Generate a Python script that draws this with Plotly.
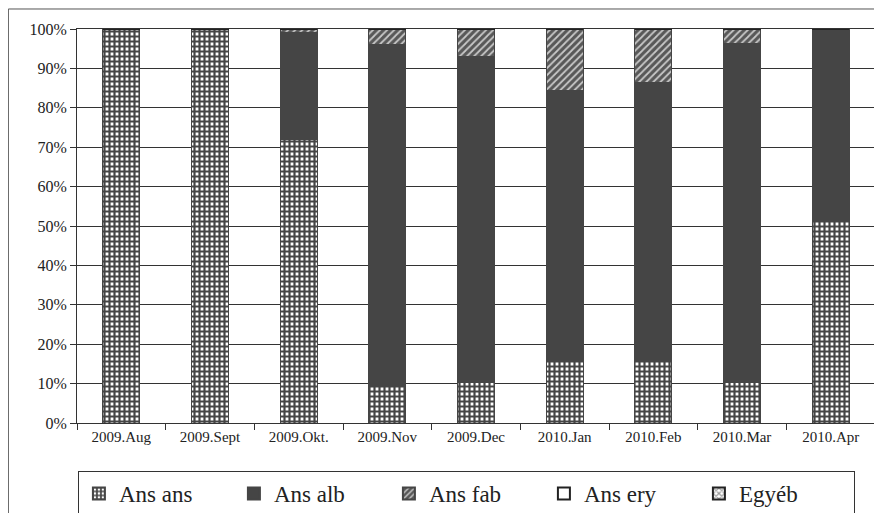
import plotly.graph_objects as go

months = ["2009.Aug", "2009.Sept", "2009.Okt.", "2009.Nov", "2009.Dec",
          "2010.Jan", "2010.Feb", "2010.Mar", "2010.Apr"]
ans_ans = [100, 100, 72, 9.6, 10.2, 15.7, 15.9, 10.3, 51.5]
ans_alb = [0, 0, 27, 86.4, 82.7, 68.8, 70.4, 86.1, 48.5]
ans_fab = [0, 0, 1, 4, 7.1, 15.5, 13.7, 3.6, 0]
ans_ery = [0, 0, 0, 0, 0, 0, 0, 0, 0]
egyeb = [0, 0, 0, 0, 0, 0, 0, 0, 0]

SERIF = "Liberation Serif, Times New Roman, serif"
dark = "#454545"
fig = go.Figure()
fig.add_bar(name="Ans ans", x=months, y=ans_ans,
            marker=dict(color="white", line=dict(color=dark, width=1),
                        pattern=dict(shape="+", fgcolor=dark, bgcolor="white",
                                     size=5, solidity=0.68, fillmode="replace")))
fig.add_bar(name="Ans alb", x=months, y=ans_alb,
            marker=dict(color=dark, line=dict(color=dark, width=1)))
fig.add_bar(name="Ans fab", x=months, y=ans_fab,
            marker=dict(color=dark, line=dict(color=dark, width=1),
                        pattern=dict(shape="/", fgcolor="#c8c8c8", bgcolor="#585858",
                                     size=5, solidity=0.35, fillmode="replace")))
fig.add_bar(name="Ans ery", x=months, y=ans_ery,
            marker=dict(color="white", line=dict(color="#222", width=1)))
fig.add_bar(name="Egyéb", x=months, y=egyeb,
            marker=dict(color="white", line=dict(color="#222", width=1),
                        pattern=dict(shape="x", fgcolor="#333", bgcolor="white",
                                     size=5, solidity=0.5)))

fig.update_layout(
    width=874, height=505, barmode="stack", bargap=0.58,
    paper_bgcolor="white", plot_bgcolor="white",
    margin=dict(l=69, r=7, t=21, b=90, autoexpand=False),
    font=dict(family=SERIF, color="#222"),
    legend=dict(orientation="h", xref="container", x=0.5245, xanchor="center",
                yref="container", y=1 - 463 / 505, yanchor="top",
                bordercolor="#333", borderwidth=1, font=dict(size=23, family=SERIF),
                entrywidth=110, itemsizing="constant", traceorder="normal"),
    shapes=[dict(type="rect", xref="paper", yref="paper", x0=-0.086, x1=1.03,
                 y0=-0.3, y1=1.0508, line=dict(color="#555", width=1))],
)
fig.update_yaxes(range=[0, 100], tickvals=list(range(0, 101, 10)),
                 ticktext=[f"{v}%" for v in range(0, 101, 10)],
                 showgrid=True, gridcolor="#333", gridwidth=1,
                 showline=True, linecolor="#333", mirror=True,
                 ticks="outside", ticklen=6, tickcolor="#333",
                 tickfont=dict(size=16, family=SERIF, color="#222"))
fig.update_xaxes(showline=True, linecolor="#333", mirror=True,
                 ticks="outside", ticklen=6, tickcolor="#333", tickson="boundaries",
                 tickfont=dict(size=15, family=SERIF, color="#222"))

fig.write_html("out.html")
